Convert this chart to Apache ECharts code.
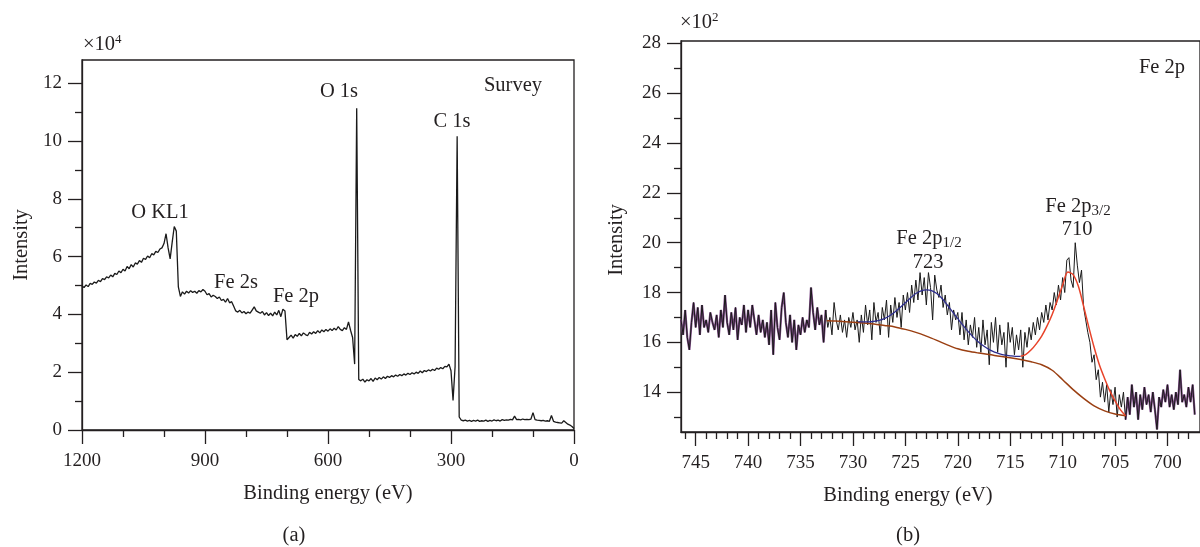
<!DOCTYPE html>
<html>
<head>
<meta charset="utf-8">
<script src="https://cdn.jsdelivr.net/npm/echarts@6.0.0/dist/echarts.min.js"></script>
<style>
  html, body { margin: 0; padding: 0; background: #fff; }
  #chart { width: 1200px; height: 547px; }
</style>
</head>
<body>
<div id="chart"></div>
<script>
// survey spectrum, 1200 -> 0 eV every 5 eV (x10^4 counts)
const surveyStart = 1200, surveyStep = 5
const surveyIntensity = [
  4.98, 4.93, 5.02, 4.96, 5.07, 5.04, 5.12, 5.08, 5.18, 5.13, 5.24, 5.20, 5.30, 5.26, 5.36, 5.30,
  5.42, 5.38, 5.50, 5.44, 5.56, 5.50, 5.66, 5.58, 5.72, 5.64, 5.78, 5.74, 5.86, 5.80, 5.94, 5.90,
  6.02, 5.96, 6.10, 6.06, 6.18,
  6.14, 6.26, 6.30, 6.45, 6.79, 6.30, 5.92, 6.50, 7.04, 6.88, 4.95, 4.62,
  4.78, 4.70, 4.80, 4.74, 4.82, 4.76, 4.80, 4.73, 4.82, 4.78, 4.86, 4.80, 4.68, 4.72, 4.60, 4.66,
  4.62, 4.55, 4.60, 4.48, 4.52, 4.42, 4.55, 4.40, 4.44, 4.28, 4.12, 4.08, 4.14, 4.05, 4.10, 4.02,
  4.08, 4.04, 4.15, 4.26, 4.12, 4.08, 4.04, 4.10, 3.98, 4.06, 3.96, 4.04, 3.95, 4.08, 3.98, 4.14, 3.92,
  4.18, 4.12, 3.12, 3.20, 3.28, 3.18, 3.30, 3.24, 3.34, 3.26, 3.36, 3.30, 3.26, 3.38, 3.32, 3.40,
  3.34, 3.44, 3.36, 3.46, 3.40, 3.48, 3.42, 3.50, 3.44, 3.52, 3.46, 3.58, 3.48, 3.44, 3.54, 3.48,
  3.74, 3.45, 3.20, 2.28, 11.13, 1.75, 1.70,
  1.76, 1.66, 1.74, 1.70, 1.78, 1.68, 1.80, 1.74, 1.82, 1.76, 1.84, 1.78, 1.86, 1.82, 1.88, 1.84,
  1.90, 1.86, 1.92, 1.88, 1.94, 1.90, 1.96, 1.92, 1.98, 1.94, 2.00, 1.96, 2.04, 1.98, 2.06, 2.02,
  2.08, 2.04, 2.10, 2.06, 2.14, 2.10, 2.16, 2.12, 2.20, 2.18,
  2.28, 2.05, 1.02, 2.20, 10.16, 0.45, 0.34,
  0.32, 0.34, 0.31, 0.33, 0.30, 0.33, 0.31, 0.34, 0.30, 0.32, 0.31, 0.34, 0.30, 0.33, 0.31, 0.35,
  0.32, 0.34, 0.31, 0.36, 0.33, 0.35, 0.34, 0.37, 0.35, 0.48, 0.36, 0.37, 0.35, 0.38, 0.36, 0.37,
  0.36, 0.38, 0.60, 0.36, 0.34, 0.33, 0.32, 0.33, 0.31, 0.32, 0.30, 0.50, 0.30, 0.27, 0.26, 0.25,
  0.24, 0.32, 0.26, 0.20, 0.17, 0.12, 0.05
]

// Fe 2p region, 746.4 -> 697.4 eV every 0.2 eV (x10^2 counts)
const fe2pStart = 746.4, fe2pStep = 0.2
const fe2pIntensity = [
  16.9, 16.3, 17.3, 16.2, 15.7, 16.8, 17.6, 16.6, 17.4, 16.3, 17.5, 16.6, 16.9, 16.4, 17.2, 16.8,
  16.5, 17.1, 16.2, 17.3, 16.6, 17.9, 16.8, 16.3, 17.2, 16.5, 17.4, 16.1, 17.0, 16.7, 17.5, 16.4,
  17.3, 16.6, 17.5, 16.9, 16.3, 17.1, 16.4, 16.9, 16.2, 16.8, 15.9, 17.3, 15.5, 17.6, 16.6, 16.1,
  17.4, 18.0, 16.8, 16.2, 17.1, 16.0, 16.9, 15.7, 16.7, 16.3, 17.0, 16.4, 16.9, 16.6, 18.2, 17.2,
  16.5, 17.4, 16.7, 17.1,
  16.0, 17.3, 16.6, 17.0, 16.3, 17.6, 16.9, 16.5, 17.1, 16.4, 16.9, 16.2, 17.0, 16.6, 17.2, 16.5,
  16.9, 16.0, 17.1, 16.4,
  17.5, 16.7, 17.3, 16.1, 17.6, 16.8, 17.2, 16.3, 17.4, 16.9, 17.7, 16.2, 17.5, 16.8, 17.8, 17.0,
  17.6, 16.6, 17.9, 17.3, 18.0, 17.2, 18.3, 17.6, 18.5, 17.7, 18.8, 17.9, 18.6, 17.5, 18.8, 18.2,
  16.9, 18.7, 18.1, 17.8, 18.3, 17.4, 17.9, 17.1, 17.6, 16.5, 17.3, 16.9, 17.2,
  16.3, 17.2, 16.1, 16.9, 15.9, 16.7, 16.2, 17.0, 15.8, 16.6, 15.6, 16.9, 15.9, 16.5, 15.1, 16.8,
  16.0, 17.0, 15.6, 16.7, 15.9, 16.4, 15.0, 16.8, 16.0, 16.6, 15.5, 16.3, 15.7, 16.5,
  15.0, 16.4, 15.8, 16.6, 16.1, 16.8, 16.3, 17.0, 16.5, 17.2, 16.8, 17.5, 16.9, 17.6, 17.3, 18.0,
  17.5, 18.3, 17.7, 18.6, 18.0, 19.3, 19.4, 18.5, 18.2, 20.0, 19.1, 18.4, 18.9, 17.4,
  16.9, 16.4, 16.0, 15.2, 15.5, 14.5, 14.9, 13.8, 14.4, 13.6, 14.3, 13.2, 14.1, 13.5, 14.2, 13.0,
  13.9, 13.4, 14.0, 12.9,
  13.8, 13.1, 14.3, 13.4, 14.0, 12.9, 13.9, 13.3, 14.2, 13.5, 13.9, 13.2, 14.0, 13.3, 12.5, 13.8,
  13.4, 14.1, 13.6, 14.3, 13.4, 13.9, 13.3, 14.0, 13.5, 14.9, 13.6, 13.9, 13.4, 14.2, 13.6, 14.3, 13.1
]

// fitted curves
const bgEnergy = [732.5, 732, 731, 730, 729, 728, 727, 726, 725, 724, 723, 722, 721, 720, 719,
  718, 717, 716, 715, 714, 713, 712, 711, 710, 709, 708, 707, 706, 705, 704]
const bgIntensity = [16.87, 16.86, 16.84, 16.81, 16.78, 16.74, 16.68, 16.62, 16.52, 16.40, 16.25,
  16.08, 15.90, 15.74, 15.64, 15.57, 15.51, 15.44, 15.38, 15.31, 15.22, 15.10, 14.88, 14.50, 14.10,
  13.75, 13.45, 13.25, 13.12, 13.05]
const p12Energy = [729.5, 729, 728.5, 728, 727.5, 727, 726.5, 726, 725.5, 725, 724.5, 724, 723.5,
  723, 722.5, 722, 721.5, 721, 720.5, 720, 719.5, 719, 718.5, 718, 717.5, 717, 716.5, 716, 715.5,
  715, 714.5, 714]
const p12Intensity = [16.83, 16.82, 16.82, 16.84, 16.88, 16.95, 17.07, 17.22, 17.40, 17.59, 17.79,
  17.96, 18.07, 18.11, 18.08, 17.96, 17.76, 17.50, 17.22, 16.95, 16.68, 16.43, 16.20, 16.00, 15.84,
  15.71, 15.61, 15.54, 15.49, 15.46, 15.44, 15.44]
const p32Energy = [714, 713.5, 713, 712.5, 712, 711.5, 711, 710.5, 710, 709.5, 709, 708.5, 708,
  707.5, 707, 706.5, 706, 705.5, 705, 704.5, 704]
const p32Intensity = [15.44, 15.52, 15.70, 15.95, 16.25, 16.65, 17.12, 17.70, 18.30, 18.82, 18.72,
  18.25, 17.45, 16.60, 15.80, 15.10, 14.55, 14.05, 13.65, 13.30, 13.05]

// ticks
const surveyXTicks = [1200, 900, 600, 300, 0]
const surveyXMinor = [1100, 1000, 800, 700, 500, 400, 200, 100]
const surveyYTicks = [0, 2, 4, 6, 8, 10, 12]
const surveyYMinor = [1, 3, 5, 7, 9, 11]
const fe2pXTicks = [745, 740, 735, 730, 725, 720, 715, 710, 705, 700]
const fe2pXMinor = [746, 744, 743, 742, 741, 739, 738, 737, 736, 734, 733, 732, 731, 729, 728, 727,
  726, 724, 723, 722, 721, 719, 718, 717, 716, 714, 713, 712, 711, 709, 708, 707, 706, 704, 703,
  702, 701, 699, 698]
const fe2pYTicks = [14, 16, 18, 20, 22, 24, 26, 28]
const fe2pYMinor = [13, 15, 17, 19, 21, 23, 25, 27]

const ink = '#231f20'
const serif = '"Liberation Serif", "DejaVu Serif", serif'

const surveyEnergy = surveyIntensity.map((v, i) => surveyStart - i * surveyStep)
const fe2pEnergy = fe2pIntensity.map((v, i) => +(fe2pStart - i * fe2pStep).toFixed(1))
const toPairs = (xs, ys) => xs.map((x, i) => [x, ys[i]])
// purple envelope only visible outside the fitted window
const fe2pOuter = fe2pIntensity.map((v, i) => (fe2pEnergy[i] > 704 && fe2pEnergy[i] < 732.6) ? null : v)

//major axis with labels
const mainAxis = (grid, position, min, max, ticks, inverse, margin) => ({
  type: 'value', gridIndex: grid, position, min, max, inverse,
  axisLine: { show: true, onZero: false, lineStyle: { color: ink, width: 1.3 } },
  axisTick: { show: true, inside: false, length: 14, customValues: ticks, lineStyle: { color: ink, width: 1.3 } },
  axisLabel: {
    show: true, customValues: ticks, margin, color: ink, fontSize: 19, fontFamily: serif,
    formatter: (v) => String(v),
  },
  splitLine: { show: false },
})

//minor ticks only
const minorAxis = (grid, position, min, max, ticks, inverse) => ({
  type: 'value', gridIndex: grid, position, min, max, inverse,
  axisLine: { show: false, onZero: false },
  axisTick: { show: true, inside: false, length: 7, customValues: ticks, lineStyle: { color: ink, width: 1.3 } },
  axisLabel: { show: false },
  splitLine: { show: false },
})

const text = (x, y, str, opts) => ({
  type: 'text', x, y, silent: true,
  style: Object.assign({ text: str, fill: ink, font: '20.5px ' + serif, align: 'center', verticalAlign: 'middle' }, opts || {}),
})

const subRich = {
  m: { fontSize: 20.5, fontFamily: serif, color: ink, lineHeight: 24 },
  s: { fontSize: 15, fontFamily: serif, color: ink, lineHeight: 14, verticalAlign: 'bottom' },
  u: { fontSize: 13, fontFamily: serif, color: ink, lineHeight: 12, verticalAlign: 'top' },
}

const chart = echarts.init(document.getElementById('chart'), null, { renderer: 'canvas' })

chart.setOption({
  animation: false,
  backgroundColor: '#fff',
  grid: [
    { left: 82, top: 60, width: 492, height: 370, show: true, borderColor: ink, borderWidth: 1.3 },
    { left: 681, top: 41, width: 524, height: 391, show: true, borderColor: ink, borderWidth: 1.3 },
  ],
  xAxis: [
    mainAxis(0, 'bottom', 0, 1200, surveyXTicks, true, 22),
    minorAxis(0, 'bottom', 0, 1200, surveyXMinor, true),
    mainAxis(1, 'bottom', 696.9, 746.4, fe2pXTicks, true, 22),
    minorAxis(1, 'bottom', 696.9, 746.4, fe2pXMinor, true),
  ],
  yAxis: [
    mainAxis(0, 'left', 0, 12.8, surveyYTicks, false, 20),
    minorAxis(0, 'left', 0, 12.8, surveyYMinor, false),
    mainAxis(1, 'left', 12.4, 28.1, fe2pYTicks, false, 20),
    minorAxis(1, 'left', 12.4, 28.1, fe2pYMinor, false),
  ],
  series: [
    {
      type: 'line', xAxisIndex: 0, yAxisIndex: 0, showSymbol: false, silent: true,
      data: toPairs(surveyEnergy, surveyIntensity),
      lineStyle: { color: '#1a1a1a', width: 1.3 },
    },
    {
      type: 'line', xAxisIndex: 2, yAxisIndex: 2, showSymbol: false, silent: true, connectNulls: false,
      data: toPairs(fe2pEnergy, fe2pOuter),
      lineStyle: { color: '#7d4a86', width: 2.2 },
    },
    {
      type: 'line', xAxisIndex: 2, yAxisIndex: 2, showSymbol: false, silent: true,
      data: toPairs(fe2pEnergy, fe2pIntensity),
      lineStyle: { color: '#1a1a1a', width: 1 },
    },
    {
      type: 'line', xAxisIndex: 2, yAxisIndex: 2, showSymbol: false, silent: true, smooth: 0.3,
      data: toPairs(bgEnergy, bgIntensity),
      lineStyle: { color: '#9a3f12', width: 1.5 },
    },
    {
      type: 'line', xAxisIndex: 2, yAxisIndex: 2, showSymbol: false, silent: true, smooth: 0.3,
      data: toPairs(p12Energy, p12Intensity),
      lineStyle: { color: '#2e2e8f', width: 1.3 },
    },
    {
      type: 'line', xAxisIndex: 2, yAxisIndex: 2, showSymbol: false, silent: true, smooth: 0.3,
      data: toPairs(p32Energy, p32Intensity),
      lineStyle: { color: '#e8432a', width: 1.5 },
    },
  ],
  graphic: [
    // survey panel
    Object.assign(text(22, 245, 'Intensity'), { rotation: Math.PI / 2 }),
    text(328, 494, 'Binding energy (eV)'),
    text(294, 536, '(a)'),
    text(83, 45, '{m|×10}{u|4}', { align: 'left', rich: subRich }),
    text(513, 86, 'Survey'),
    text(339, 92, 'O 1s'),
    text(452, 122, 'C 1s'),
    text(160, 213, 'O KL1'),
    text(236, 283, 'Fe 2s'),
    text(296, 297, 'Fe 2p'),
    // Fe 2p panel
    Object.assign(text(617, 240, 'Intensity'), { rotation: Math.PI / 2 }),
    text(908, 496, 'Binding energy (eV)'),
    text(908, 536, '(b)'),
    text(680, 23, '{m|×10}{u|2}', { align: 'left', rich: subRich }),
    text(1162, 68, 'Fe 2p'),
    text(1078, 207, '{m|Fe 2p}{s|3/2}', { rich: subRich }),
    text(1077, 230, '710'),
    text(929, 239, '{m|Fe 2p}{s|1/2}', { rich: subRich }),
    text(928, 263, '723'),
  ],
})
</script>
</body>
</html>
